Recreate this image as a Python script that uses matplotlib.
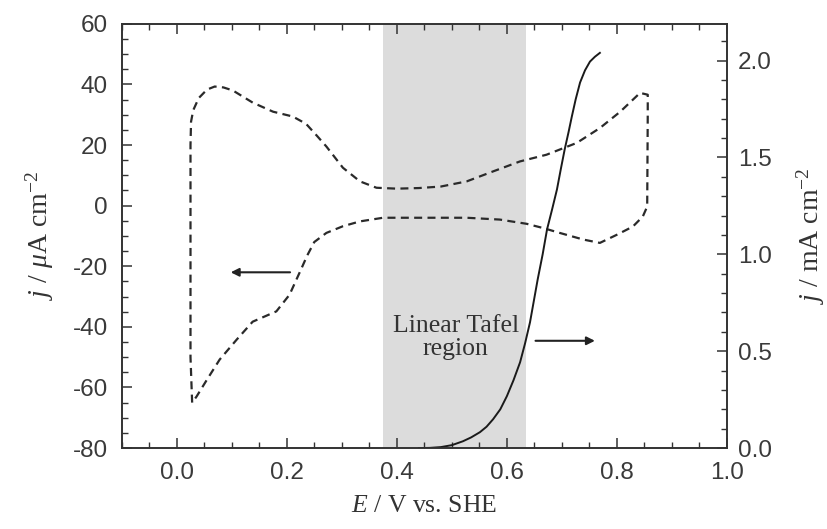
import matplotlib
matplotlib.use("Agg")
import matplotlib.pyplot as plt

plt.rcParams['font.family'] = ['Liberation Sans', 'DejaVu Sans']
plt.rcParams['mathtext.fontset'] = 'custom'
plt.rcParams['mathtext.rm'] = 'Liberation Serif'
plt.rcParams['mathtext.it'] = 'Liberation Serif:italic'
plt.rcParams['axes.unicode_minus'] = False

# cyclic voltammogram (left axis, uA cm-2)
cv_E = [0.028, 0.025, 0.025, 0.026, 0.030, 0.040, 0.055, 0.069, 0.085, 0.102, 0.120,
        0.138, 0.175, 0.211, 0.235, 0.255, 0.272, 0.302, 0.333, 0.363, 0.400, 0.440,
        0.480, 0.527, 0.575, 0.624, 0.672, 0.727, 0.769, 0.806, 0.842, 0.856, 0.856,
        0.855, 0.847, 0.829, 0.800, 0.769, 0.739, 0.696, 0.666, 0.636, 0.587, 0.527,
        0.450, 0.375, 0.333, 0.302, 0.272, 0.250, 0.237, 0.226, 0.205, 0.181, 0.138,
        0.109, 0.078, 0.055, 0.036, 0.028]
cv_j = [-65, -50, 20, 27.7, 31.5, 35.5, 38.3, 39.3, 39.0, 38.0, 36.0,
        34.0, 31.0, 29.4, 27.0, 23.0, 19.5, 12.5, 8.0, 5.9, 5.6, 5.8,
        6.3, 8.0, 11.3, 14.6, 16.8, 20.7, 25.6, 31.0, 37.2, 36.6, 30.0,
        -0.3, -3.6, -6.9, -9.6, -12.3, -11.2, -9.0, -7.4, -6.0, -4.6, -4.0,
        -4.0, -4.0, -5.2, -6.8, -9.0, -12.0, -16.5, -21.0, -29.4, -34.9, -38.3,
        -44.2, -50.8, -57.4, -63.0, -65]

# polarisation curve (right axis, mA cm-2)
tafel_E = [0.44, 0.46, 0.48, 0.50, 0.52, 0.535, 0.551, 0.563, 0.575, 0.588, 0.600,
           0.612, 0.624, 0.633, 0.642, 0.649, 0.656, 0.665, 0.673, 0.682, 0.691,
           0.698, 0.705, 0.712, 0.718, 0.725, 0.733, 0.742, 0.751, 0.760, 0.769]
tafel_j = [0.0, 0.001, 0.005, 0.015, 0.035, 0.055, 0.082, 0.11, 0.149, 0.20, 0.268,
           0.35, 0.443, 0.54, 0.649, 0.76, 0.871, 1.0, 1.129, 1.23, 1.335,
           1.44, 1.541, 1.63, 1.711, 1.80, 1.887, 1.95, 1.995, 2.02, 2.04]

tafel_region = (0.375, 0.635)

fig = plt.figure(figsize=(8.28, 5.29), dpi=100)
ax = fig.add_axes([0.147, 0.153, 0.731, 0.802])
ax2 = ax.twinx()

ax.axvspan(*tafel_region, color='#dcdcdc', lw=0, zorder=0)
ax.plot(cv_E, cv_j, color='#2a2a2a', lw=1.6, dashes=(3.6, 2.4))
ax2.plot(tafel_E, tafel_j, color='#1a1a1a', lw=1.4)

ax.set_xlim(-0.1, 1.0)
ax.set_ylim(-80, 60)
ax2.set_ylim(0, 2.19)

ax.set_xticks([0.0, 0.2, 0.4, 0.6, 0.8, 1.0])
ax.set_xticks([x / 100 for x in range(-10, 101, 5)], minor=True)
ax.set_yticks(range(-80, 61, 20))
ax.set_yticks(range(-80, 61, 5), minor=True)
ax2.set_yticks([0.0, 0.5, 1.0, 1.5, 2.0])
ax2.set_yticks([v / 10 for v in range(0, 22)], minor=True)
ax.xaxis.set_major_formatter(plt.FormatStrFormatter('%.1f'))
ax2.yaxis.set_major_formatter(plt.FormatStrFormatter('%.1f'))

for a in (ax, ax2):
    a.tick_params(which='major', direction='in', length=7, width=1.1,
                  labelsize=17.5, labelcolor='#3a3a3a', color='#333333')
    a.tick_params(which='minor', direction='in', length=4, width=1.0, color='#333333')
    for s in a.spines.values():
        s.set_color('#333333')
        s.set_linewidth(1.2)
ax.tick_params(which='both', top=True)
ax.tick_params(axis='x', pad=10)
ax.tick_params(axis='y', pad=10)
ax2.tick_params(axis='y', pad=8)

ax.set_xlabel(r'$E$ / V vs. SHE', family='Liberation Serif', fontsize=18.5,
              color='#333333', labelpad=8)
ax.set_ylabel(r'$j$ / $\mu$A cm$^{-2}$', family='Liberation Serif', fontsize=20,
              color='#333333', labelpad=12)
ax2.set_ylabel(r'$j$ / mA cm$^{-2}$', family='Liberation Serif', fontsize=20,
               color='#333333', labelpad=16)

ax.text(0.507, -43.5, 'Linear Tafel\nregion', family='Liberation Serif', fontsize=18.5,
        ha='center', va='center', color='#333333', linespacing=1.1)

ax.annotate('', xy=(0.093, -22), xytext=(0.211, -22),
            arrowprops=dict(arrowstyle='-|>', color='#222222', lw=1.5, mutation_scale=12))
ax.annotate('', xy=(0.765, -44.6), xytext=(0.647, -44.6),
            arrowprops=dict(arrowstyle='-|>', color='#222222', lw=1.5, mutation_scale=12))

fig.savefig('out.png', dpi=100)
